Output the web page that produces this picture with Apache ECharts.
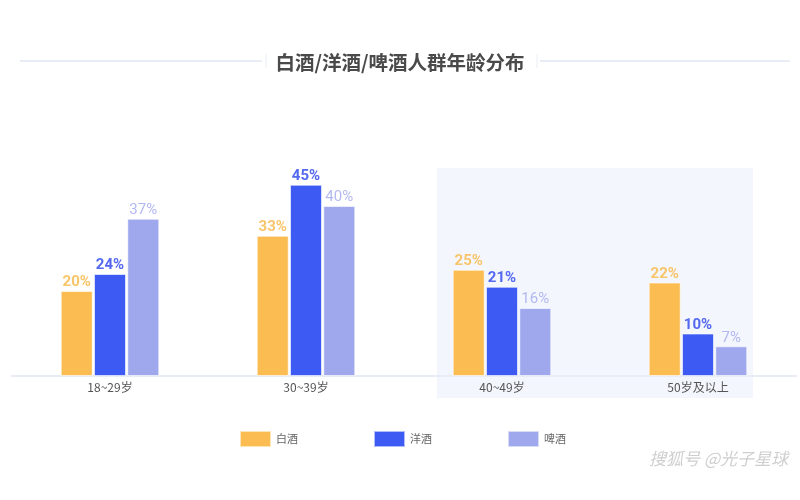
<!DOCTYPE html>
<html><head><meta charset="utf-8">
<script src="https://cdn.jsdelivr.net/npm/echarts@6/dist/echarts.min.js"></script>
<style>html,body{margin:0;padding:0;background:#fff}#c{width:800px;height:500px}</style>
</head><body><div id="c"></div>
<script>
const categories = ['18~29岁', '30~39岁', '40~49岁', '50岁及以上'];
const seriesNames = ['白酒', '洋酒', '啤酒'];
const baijiu = [20, 33, 25, 22];
const yangjiu = [24, 45, 21, 10];
const pijiu = [37, 40, 16, 7];
const titleText = '白酒/洋酒/啤酒人群年龄分布';
const watermark = '搜狐号 @光子星球';

const colors = ['#fbbd52', '#3d5bf3', '#9fa8ec'];
const labelColors = ['#f8c56a', '#5468f0', '#b3b9f0'];
const labelWeights = ['bold', 'bold', 'normal'];
const datas = [baijiu, yangjiu, pijiu];

const chart = echarts.init(document.getElementById('c'));
const font = '"Noto Sans CJK SC", "Noto Sans", sans-serif';
chart.setOption({
  animation: false,
  textStyle: { fontFamily: font },
  title: {
    text: titleText, left: 'center', top: 48,
    textStyle: { fontSize: 19.5, fontWeight: 'bold', color: '#4a4a4a', fontFamily: font }
  },
  graphic: [
    { type: 'line', shape: { x1: 20, y1: 61, x2: 262, y2: 61 }, style: { stroke: '#e8edf5', lineWidth: 2 } },
    { type: 'line', shape: { x1: 540, y1: 61, x2: 790, y2: 61 }, style: { stroke: '#e8edf5', lineWidth: 2 } },
    { type: 'line', shape: { x1: 266, y1: 54, x2: 266, y2: 68 }, style: { stroke: '#e8edf5', lineWidth: 1 } },
    { type: 'line', shape: { x1: 537, y1: 54, x2: 537, y2: 68 }, style: { stroke: '#e8edf5', lineWidth: 1 } },
    { type: 'rect', z: -10, shape: { x: 437, y: 168, width: 316, height: 230 }, style: { fill: '#f3f6fd' } },
    { type: 'text', right: 12, top: 450, style: { text: watermark, fill: '#cfcfcf', font: 'italic 17px ' + font, shadowColor: 'rgba(0,0,0,0.2)', shadowBlur: 2, shadowOffsetY: 1 } }
  ],
  legend: {
    data: seriesNames, bottom: 47, left: 234, itemWidth: 31, itemHeight: 16, itemGap: 75,
    icon: 'rect',
    textStyle: { fontSize: 11, color: '#666', fontFamily: font }
  },
  grid: { left: 12, right: 4, top: 121, bottom: 124 },
  xAxis: {
    type: 'category', data: categories,
    axisLine: { lineStyle: { color: '#e8edf5', width: 2 } },
    axisTick: { show: false },
    axisLabel: { color: '#555', fontSize: 12, margin: 5, fontFamily: font }
  },
  yAxis: { type: 'value', min: 0, max: 60, show: false, splitLine: { show: false } },
  series: seriesNames.map((n, i) => ({
    name: n, type: 'bar', data: datas[i], barWidth: 32, barGap: '4%',
    itemStyle: { color: colors[i], borderColor: 'rgba(255,255,255,0.6)', borderWidth: 1 },
    label: { show: true, position: 'top', distance: 1, formatter: '{c}%', color: labelColors[i], fontSize: 15, fontWeight: labelWeights[i], fontFamily: 'Roboto, sans-serif' }
  }))
});
</script></body></html>
